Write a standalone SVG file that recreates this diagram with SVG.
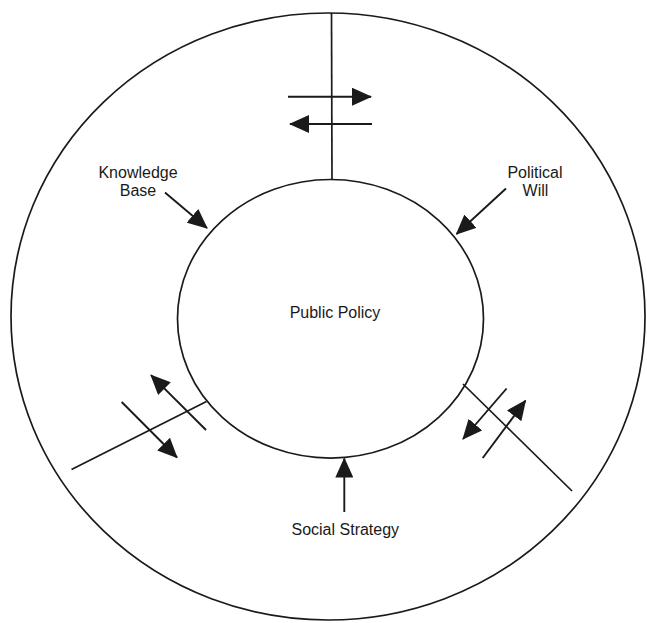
<svg xmlns="http://www.w3.org/2000/svg" width="647" height="623" viewBox="0 0 647 623">
<style>
.ln{stroke:#1a1a1a;stroke-width:1.7;fill:none}
.ar{stroke:#1a1a1a;stroke-width:1.9;fill:none;marker-end:url(#ah)}
.t{font-family:"Liberation Sans",Arial,sans-serif;font-size:16px;fill:#1a1a1a;text-anchor:middle}
</style>
<defs>
<marker id="ah" markerUnits="userSpaceOnUse" markerWidth="20" markerHeight="18" viewBox="0 0 20 18" refX="19" refY="9" orient="auto">
<path d="M0,0 L20,9 L0,18 Z" fill="#1a1a1a"/>
</marker>
</defs>
<rect width="647" height="623" fill="#fff"/>
<g id="outer">
<ellipse class="ln" cx="328" cy="316.5" rx="317" ry="303.5"/>
</g>
<g id="public-policy">
<ellipse class="ln" cx="330.5" cy="318.8" rx="153" ry="139.3"/>
<text class="t" x="335" y="317.5">Public Policy</text>
</g>
<g id="knowledge-base">
<text class="t" x="138" y="177.5">Knowledge</text>
<text class="t" x="138" y="196">Base</text>
</g>
<g id="political-will">
<text class="t" x="535" y="177.5">Political</text>
<text class="t" x="535.5" y="196">Will</text>
</g>
<g id="social-strategy">
<text class="t" x="345.3" y="534.5">Social Strategy</text>
</g>
<g id="connectors">
<line class="ln" x1="331.5" y1="13" x2="332" y2="179.5"/>
<line class="ar" x1="288" y1="96.7" x2="371" y2="96.7"/>
<line class="ar" x1="372" y1="124" x2="290" y2="124"/>
<line class="ar" x1="165" y1="192.5" x2="207" y2="228"/>
<line class="ar" x1="506" y1="188.5" x2="456.5" y2="234"/>
<line class="ln" x1="71.5" y1="469.5" x2="206.5" y2="401.5"/>
<line class="ar" x1="206" y1="430" x2="151" y2="375.2"/>
<line class="ar" x1="121.7" y1="402" x2="177" y2="457.5"/>
<line class="ln" x1="463" y1="384" x2="572" y2="491"/>
<line class="ar" x1="506.6" y1="388.5" x2="463" y2="439"/>
<line class="ar" x1="482.7" y1="458" x2="525.5" y2="400.6"/>
<line class="ar" x1="344.3" y1="512" x2="344.3" y2="458.5"/>
</g>
</svg>
